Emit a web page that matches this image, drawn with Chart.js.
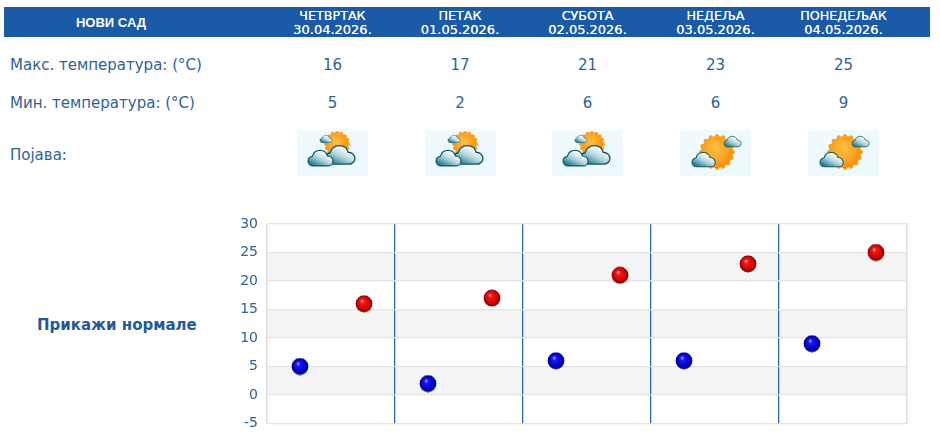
<!DOCTYPE html>
<html lang="sr"><head><meta charset="utf-8">
<script src="https://cdn.jsdelivr.net/npm/chart.js@4/dist/chart.umd.min.js"></script>
<style>
html,body{margin:0;padding:0;background:#fff;overflow:hidden}
#page{position:relative;width:940px;height:439px;font-family:"DejaVu Sans",sans-serif;color:#2f6299;font-size:15px}
#head{position:absolute;left:4px;top:7px;width:926px;height:30px;background:#1a5aa6}
.t{position:absolute;white-space:nowrap;line-height:1}
.c{transform:translateX(-50%);text-align:center}
.hd{color:#fff;font-size:12.7px;line-height:14px;text-align:center;text-shadow:0 0 .6px #fff}
.hd .d{font-size:13px;letter-spacing:0}
.hd .n{font-family:"Liberation Sans",sans-serif;font-weight:bold;font-size:13px;text-shadow:none}
.ic{position:absolute;top:130px;width:71px;height:46px;background:#effafd}
#wrap{position:absolute;left:231px;top:210px;width:700px;height:229px}
</style></head><body>
<div id="page"><div id="head"></div>
<div id="wrap"><canvas id="c" width="700" height="229"></canvas></div></div>
<svg width="0" height="0" style="position:absolute"><defs>
<linearGradient id="cl" x1=".1" y1=".95" x2=".7" y2=".2"><stop offset="0" stop-color="#12697e"/><stop offset=".55" stop-color="#a9d3dc"/><stop offset="1" stop-color="#fff"/></linearGradient>
<radialGradient id="su" cx=".45" cy=".4" r=".6"><stop offset="0" stop-color="#ffc23f"/><stop offset="1" stop-color="#f58f12"/></radialGradient>
<path id="cp" d="M3 23c-3.500 0-6-2.500-6-5.500 0-3 2-5 5-5.500 1-4 4.500-7 9-7 4 0 7.500 2.500 8.500 6.500 3.500 0 6.500 2.500 6.500 6 0 3-2.500 5.500-6 5.500z" fill="url(#cl)" stroke="#0f5566" stroke-width="1.300"/>
</defs></svg>
<script>
const place = "НОВИ САД";
const days = ["ЧЕТВРТАК","ПЕТАК","СУБОТА","НЕДЕЉА","ПОНЕДЕЉАК"];
const dates = ["30.04.2026.","01.05.2026.","02.05.2026.","03.05.2026.","04.05.2026."];
const maxTemps = [16,17,21,23,25];
const minTemps = [5,2,6,6,9];
const iconKinds = ["cloudy","cloudy","cloudy","sunny","sunny"];
const rowLabels = ["Макс. температура: (°C)","Мин. температура: (°C)","Појава:"];
const normalsLabel = "Прикажи нормале";
const yTicks = [30,25,20,15,10,5,0,-5];

const centers=[332.5,460,587.5,715.5,843.5];
const page=document.getElementById('page');
function add(cls,html,l,t,css){const e=document.createElement('div');e.className=cls;e.innerHTML=html;e.style.left=l+'px';e.style.top=t+'px';if(css)e.style.cssText+=css;page.appendChild(e);return e;}
add('t c hd',`<span class="n">${place}</span>`,111,16);
days.forEach((d,i)=>add('t c hd',`${d}<br><span class="d">${dates[i]}</span>`,centers[i],9));
add('t',rowLabels[0],10,58);add('t',rowLabels[1],10,96);add('t',rowLabels[2],10,148);
add('t',normalsLabel,37,318,'font-weight:bold;font-size:15px;color:#1f5a9e');
centers.forEach((x,i)=>{
  add('t c',maxTemps[i],x,58);
  add('t c',minTemps[i],x,96);
  const sun=(cx,cy,r)=>{let s='';for(let a=0;a<16;a++){const q=a*Math.PI/8;s+=`<circle cx="${cx+r*Math.cos(q)}" cy="${cy+r*Math.sin(q)}" r="2" fill="#f9a11f"/>`;}return s+`<circle cx="${cx}" cy="${cy}" r="${r}" fill="url(#su)"/>`;};
  const art = iconKinds[i]==="cloudy"
   ? sun(40,14,11)+`<use href="#cp" transform="translate(24.200,3.200) scale(.41)"/><use href="#cp" transform="translate(31.100,10.400) scale(1.030)"/><use href="#cp" transform="translate(13.600,16.100) scale(.86)"/>`
   : sun(37,22,16)+`<use href="#cp" transform="translate(45.800,3.300) scale(.59)"/><use href="#cp" transform="translate(14.400,18.400) scale(.8)"/>`;
  add('ic',`<svg width="71" height="46" viewBox="0 0 71 46">${art}</svg>`,x-35.5,130);
});

function ball(c0,c1,c2,c3){
  const cv=document.createElement('canvas');cv.width=20;cv.height=18;const g=cv.getContext('2d');
  const gr=g.createRadialGradient(9,6,0.5,11,9,8.5);
  gr.addColorStop(0,c0);gr.addColorStop(.2,c1);gr.addColorStop(.75,c2);gr.addColorStop(1,c3);
  g.fillStyle=gr;g.beginPath();g.arc(11,9,8.4,0,7);g.fill();return cv;
}
const bands={id:'bands',beforeDraw(ch){
  const {ctx,chartArea:a,scales:{y}}=ch;ctx.fillStyle='#f4f4f4';
  [[0,5],[10,15],[20,25]].forEach(([lo,hi])=>{ctx.fillRect(a.left,y.getPixelForValue(hi),a.width,y.getPixelForValue(lo)-y.getPixelForValue(hi));});
}};
new Chart(document.getElementById('c'),{
  type:'scatter',
  data:{datasets:[
    {label:'min',data:minTemps.map((v,i)=>({x:i+.25,y:v})),pointStyle:ball('#9a9aff','#1a1af0','#0000c8','#00005a'),pointRadius:9},
    {label:'max',data:maxTemps.map((v,i)=>({x:i+.75,y:v})),pointStyle:ball('#ff9a9a','#f01a1a','#cf0000','#5a0000'),pointRadius:9}
  ]},
  plugins:[bands],
  options:{responsive:false,animation:false,devicePixelRatio:1,
    layout:{padding:{left:0,right:24,top:14,bottom:15.5}},
    plugins:{legend:{display:false},tooltip:{enabled:false}},
    scales:{
      x:{type:'linear',min:0,max:days.length,ticks:{display:false,stepSize:1},border:{display:false},
        grid:{drawTicks:false,color:c=>(c.tick.value===0||c.tick.value===days.length)?'#dedede':'#2f66a5',lineWidth:c=>(c.tick.value===0||c.tick.value===days.length)?1.5:1.3}},
      y:{type:'linear',min:-5,max:30,afterBuildTicks:s=>{s.ticks=yTicks.map(v=>({value:v}));},
        afterFit:s=>{s.width=36;s.paddingTop=0;s.paddingBottom=0;},
        ticks:{color:'#2f6299',padding:9,font:{family:'"DejaVu Sans"',size:14}},
        border:{display:false},
        grid:{drawTicks:false,color:'#e4e4e4',lineWidth:1.3}}
    }}
});
</script></body></html>
